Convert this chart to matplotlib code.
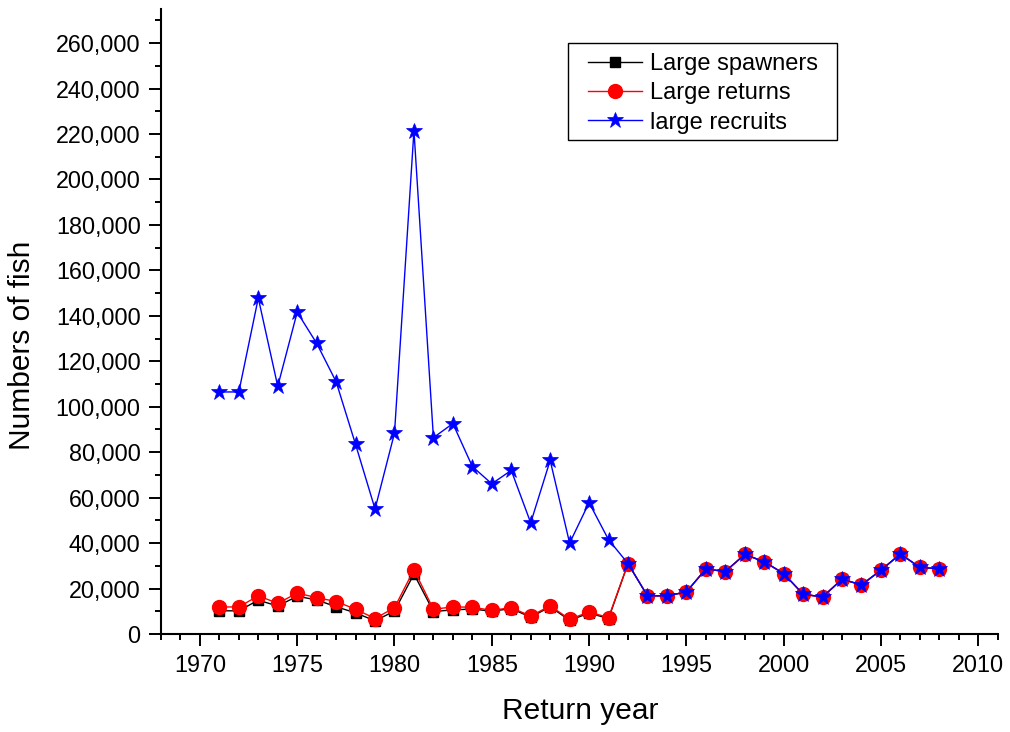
"""Large spawners, returns and recruits by return year"""
import matplotlib
matplotlib.use("Agg")
import matplotlib.pyplot as plt
from matplotlib.patches import Rectangle
from matplotlib.ticker import FuncFormatter, MultipleLocator

plt.rcParams['font.family'] = ['Liberation Sans', 'DejaVu Sans']

years = list(range(1971, 2009))

# values in thousands of fish
spawners = [10.2, 10.2, 14.9, 12.3, 16.6, 15.0, 12.0, 9.3, 5.8, 10.1,
            26.4, 9.9, 10.6, 11.0, 10.0, 11.2, 7.4, 12.0, 6.0, 9.2,
            6.8, 31.0, 16.8, 16.8, 18.5, 28.6, 27.5, 35.0, 31.8, 26.6,
            17.5, 16.3, 24.1, 21.6, 28.1, 35.2, 29.3, 28.7]
returns = [11.9, 11.9, 16.8, 13.5, 18.0, 16.0, 14.3, 10.9, 6.8, 11.6,
           28.3, 10.9, 11.9, 11.8, 10.4, 11.6, 7.9, 12.4, 6.5, 9.7,
           7.2, 31.0, 16.8, 16.8, 18.5, 28.6, 27.5, 35.0, 31.8, 26.6,
           17.5, 16.3, 24.1, 21.6, 28.1, 35.2, 29.3, 28.7]
recruits = [106.5, 106.5, 147.8, 109.0, 141.6, 127.9, 111.0, 83.4, 55.0, 88.4,
            221.5, 86.4, 92.6, 73.7, 66.1, 72.0, 48.9, 76.4, 40.0, 57.8,
            41.5, 31.0, 16.8, 16.8, 18.5, 28.6, 27.5, 35.0, 31.8, 26.6,
            17.5, 16.3, 24.1, 21.6, 28.1, 35.2, 29.3, 28.7]

fig = plt.figure(figsize=(10.1, 7.32), dpi=100)
ax = fig.add_axes([161 / 1010, 1 - 634 / 732, 836.7 / 1010, 625 / 732])

ax.plot(years, [v * 1000 for v in spawners], color='black', lw=1.0,
        marker='s', ms=7.8, mfc='black', mec='black', label='Large spawners')
ax.plot(years, [v * 1000 for v in returns], color='red', lw=1.0,
        marker='o', ms=10, mfc='red', mec='red', label='Large returns')
ax.plot(years, [v * 1000 for v in recruits], color='blue', lw=1.0,
        marker='*', ms=12, mfc='blue', mec='blue', mew=0.5,
        label='large recruits')

ax.set_xlim(1968, 2011)
ax.set_ylim(0, 275000)
ax.xaxis.set_major_locator(MultipleLocator(5))
ax.xaxis.set_minor_locator(MultipleLocator(1))
ax.yaxis.set_major_locator(MultipleLocator(20000))
ax.yaxis.set_minor_locator(MultipleLocator(10000))
ax.yaxis.set_major_formatter(FuncFormatter(lambda v, p: f"{int(v):,}"))

for side in ['top', 'right']:
    ax.spines[side].set_visible(False)
for side in ['left', 'bottom']:
    ax.spines[side].set_linewidth(1.5)

ax.tick_params(which='major', direction='out', length=8.6, width=1.4,
               labelsize=16.8)
ax.tick_params(which='minor', direction='out', length=4.3, width=1.4)
ax.tick_params(axis='x', which='major', pad=6)
ax.tick_params(axis='y', which='major', pad=6)

fig.text(22 / 1010, 1 - 345 / 732, 'Numbers of fish', rotation=90,
         ha='center', va='center', fontsize=21.5)
fig.text(580 / 1010, 1 - 711 / 732, 'Return year',
         ha='center', va='center', fontsize=21.5)

leg = fig.legend(loc='upper left', bbox_to_anchor=(588 / 1010, 1 - 53 / 732),
                 frameon=False, fontsize=17, borderpad=0, borderaxespad=0,
                 handlelength=2.3, handletextpad=0.34, labelspacing=0.31)
fig.add_artist(Rectangle((568 / 1010, 1 - 140 / 732), 269 / 1010, 97 / 732,
                         transform=fig.transFigure, fill=False,
                         edgecolor='black', lw=1.0))

fig.savefig('out.png', dpi=100)
